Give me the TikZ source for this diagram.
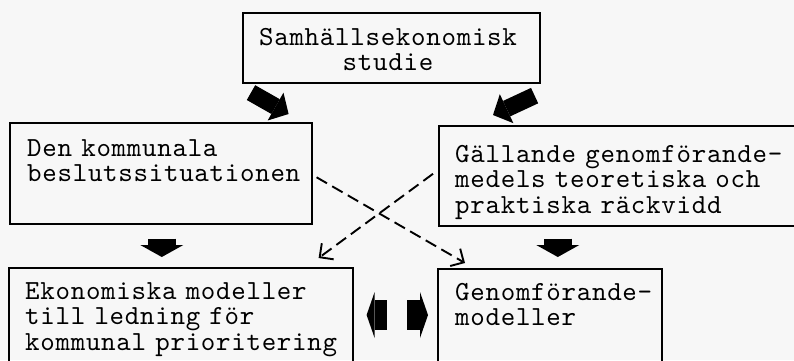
\documentclass[tikz,border=0pt]{standalone}
\usepackage{fontspec}
\setmonofont[LetterSpace=2.6]{lmmono10-regular.otf}
\usetikzlibrary{arrows.meta,calc}

\begin{document}
\begin{tikzpicture}
[
    x=1pt, y=-1pt,
    frame/.style={draw, line width=1.6pt, inner sep=0pt, anchor=north west},
    typed/.style={font=\ttfamily\fontsize{27.6}{25.5}\selectfont, text width=380pt, align=left, inner sep=0pt, anchor=base west},
    slantarrow/.style={line width=17pt, -{Triangle[length=15pt, width=32pt, line width=0pt]}},
    downarrow/.style={line width=28pt, -{Triangle[length=12pt, width=43pt, line width=0pt]}},
    sidearrow/.style={line width=30pt, -{Triangle[length=8pt, width=46pt, line width=0pt]}},
    crossing/.style={line width=1.9pt, dash pattern=on 12pt off 6pt, -{Straight Barb[length=10pt, width=20pt]}},
]
\clip (0,0) rectangle (794,360);
\fill[black!3] (0,0) rectangle (794,360);
\node[frame, minimum width=297pt, minimum height=70pt] (study) at (242,12) {};
\node[frame, minimum width=302pt, minimum height=101pt] (situation) at (9,122) {};
\node[frame, minimum width=380pt, minimum height=100pt] (reach) at (438,125) {};
\node[frame, minimum width=344pt, minimum height=140pt] (models) at (8,267) {};
\node[frame, minimum width=224pt, minimum height=140pt] (implem) at (437,268) {};
\node[typed, text width=300pt, align=center, anchor=base] (studytext) at (388,45) {Samhällsekonomisk\\studie};
\node[typed] (situationtext) at ([shift={(18,34)}]situation.north west) {Den kommunala\\beslutssituationen};
\node[typed] (reachtext) at ([shift={(17,37)}]reach.north west) {Gällande genomförande-\\medels teoretiska och\\praktiska räckvidd};
\node[typed] (modelstext) at ([shift={(17,32)}]models.north west) {Ekonomiska modeller\\till ledning för\\kommunal prioritering};
\node[typed] (implemtext) at ([shift={(18,32)}]implem.north west) {Genomförande-\\modeller};
\draw[slantarrow] ([shift={(9,9)}]study.south west) -- ([shift={(-24,-8)}]situation.north east);
\draw[slantarrow] ([shift={(-6,12)}]study.south east) -- ([shift={(55,-10)}]reach.north west);
\draw[downarrow] ($(situation.south)+(1,14)$) -- ($(situation.south |- models.north)+(1,-10)$);
\draw[downarrow] ($(implem.north |- reach.south)+(8,12)$) -- ($(implem.north)+(8,-11)$);
\draw[sidearrow] ($(models.north east)+(33,48)$) -- ($(models.north east)+(13,48)$);
\draw[sidearrow] ($(implem.north west)+(-30,47)$) -- ($(implem.north west)+(-9,47)$);
\draw[crossing] ($(situation.east)+(4,4)$) -- ($(implem.north west)+(28,-5)$);
\draw[crossing] ($(reach.west)+(-5,-2)$) -- ($(models.north east)+(-35,-9)$);
\end{tikzpicture}
\end{document}
